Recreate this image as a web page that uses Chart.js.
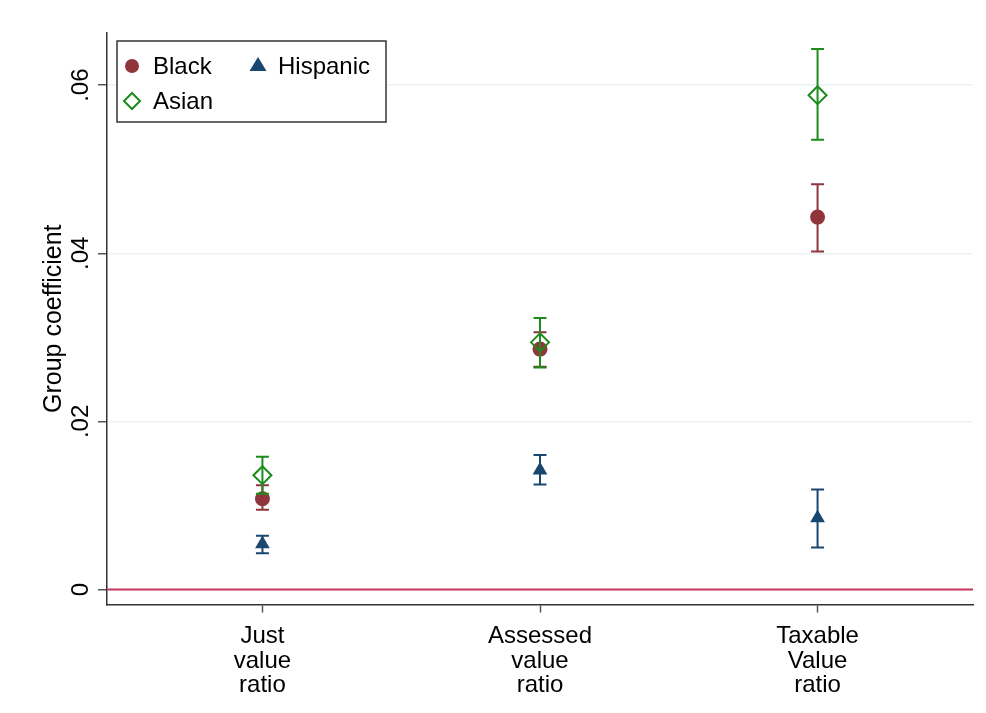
<!DOCTYPE html>
<html lang="en">
<head>
<meta charset="UTF-8">
<script src="https://cdn.jsdelivr.net/npm/chart.js@4.4.1/dist/chart.umd.min.js"></script>
<style>
  html, body { margin: 0; padding: 0; background: #fff; }
  #wrap { width: 986px; height: 713px; }
</style>
</head>
<body>
<div id="wrap"><canvas id="coefChart" width="986" height="713"></canvas></div>
<script>
// categories on the x axis (positions 1, 2, 3)
var categories = [["Just", "value", "ratio"], ["Assessed", "value", "ratio"], ["Taxable", "Value", "ratio"]];
var catPos = [1, 2, 3];
var yTicks = [0, 0.02, 0.04, 0.06];

// point estimates and confidence bounds
var blackCoef = [0.0108, 0.0286, 0.0443];
var blackLo   = [0.0095, 0.0265, 0.0402];
var blackHi   = [0.0124, 0.0306, 0.0482];

var hispanicCoef = [0.0054, 0.0142, 0.0085];
var hispanicLo   = [0.0043, 0.0125, 0.0050];
var hispanicHi   = [0.0064, 0.0160, 0.0119];

var asianCoef = [0.0136, 0.0294, 0.0588];
var asianLo   = [0.0114, 0.0264, 0.0535];
var asianHi   = [0.0158, 0.0323, 0.0643];

var maroon = "#90353b";
var navy = "#1a476f";
var green = "#1c8c1c";
var FONT = "'Liberation Sans', Arial, sans-serif";

function pts(vals) {
    return vals.map(function (v, i) { return { x: catPos[i], y: v }; });
}

var series = [
    { label: "Black", color: maroon, coef: blackCoef, lo: blackLo, hi: blackHi },
    { label: "Hispanic", color: navy, coef: hispanicCoef, lo: hispanicLo, hi: hispanicHi },
    { label: "Asian", color: green, coef: asianCoef, lo: asianLo, hi: asianHi }
];

// zero reference line + error bars (rcap style) + legend box
var extrasPlugin = {
    id: "extras",
    beforeDatasetsDraw: function (chart) {
        var c = chart.ctx, a = chart.chartArea, ys = chart.scales.y;
        var y0 = ys.getPixelForValue(0);
        c.save();
        c.strokeStyle = "#c8365e";
        c.lineWidth = 2.2;
        c.beginPath();
        c.moveTo(a.left, y0);
        c.lineTo(a.right, y0);
        c.stroke();
        c.restore();
    },
    afterDatasetsDraw: function (chart) {
        var c = chart.ctx, xs = chart.scales.x, ys = chart.scales.y;
        c.save();
        c.lineWidth = 2;
        series.forEach(function (s) {
            c.strokeStyle = s.color;
            for (var i = 0; i < catPos.length; i++) {
                var px = xs.getPixelForValue(catPos[i]);
                var pl = ys.getPixelForValue(s.lo[i]);
                var ph = ys.getPixelForValue(s.hi[i]);
                c.beginPath();
                c.moveTo(px, pl); c.lineTo(px, ph);
                c.moveTo(px - 6.5, pl); c.lineTo(px + 6.5, pl);
                c.moveTo(px - 6.5, ph); c.lineTo(px + 6.5, ph);
                c.stroke();
            }
        });
        c.restore();
    },
    afterDraw: function (chart) {
        var c = chart.ctx, a = chart.chartArea;
        var bx = a.left + 10, by = a.top + 8, bw = 269, bh = 81;
        c.save();
        c.fillStyle = "#fff";
        c.fillRect(bx, by, bw, bh);
        c.strokeStyle = "#333";
        c.lineWidth = 1.5;
        c.strokeRect(bx, by, bw, bh);
        c.font = "24px " + FONT;
        c.textBaseline = "middle";
        // Black
        c.fillStyle = maroon;
        c.beginPath(); c.arc(bx + 15, by + 25, 7, 0, Math.PI * 2); c.fill();
        c.fillStyle = "#000";
        c.fillText("Black", bx + 36, by + 26);
        // Hispanic
        c.fillStyle = navy;
        c.beginPath();
        c.moveTo(bx + 141, by + 16);
        c.lineTo(bx + 149.5, by + 30);
        c.lineTo(bx + 132.5, by + 30);
        c.closePath(); c.fill();
        c.fillStyle = "#000";
        c.fillText("Hispanic", bx + 161, by + 26);
        // Asian
        c.strokeStyle = green;
        c.lineWidth = 2;
        c.beginPath();
        c.moveTo(bx + 15, by + 52);
        c.lineTo(bx + 23, by + 60);
        c.lineTo(bx + 15, by + 68);
        c.lineTo(bx + 7, by + 60);
        c.closePath(); c.stroke();
        c.fillStyle = "#000";
        c.fillText("Asian", bx + 36, by + 61);
        c.restore();
    }
};

var ctx = document.getElementById("coefChart").getContext("2d");
var chart = new Chart(ctx, {
    type: "scatter",
    data: {
        datasets: [
            {
                label: "Asian", data: pts(asianCoef),
                pointStyle: "rectRot", radius: 9, borderWidth: 2,
                borderColor: green, backgroundColor: "rgba(255,255,255,0)"
            },
            {
                label: "Black", data: pts(blackCoef),
                pointStyle: "circle", radius: 7.5, borderWidth: 0,
                borderColor: maroon, backgroundColor: maroon
            },
            {
                label: "Hispanic", data: pts(hispanicCoef),
                pointStyle: "triangle", radius: 8.5, borderWidth: 0,
                borderColor: navy, backgroundColor: navy
            }
        ]
    },
    options: {
        responsive: false,
        animation: false,
        layout: { padding: { left: 41, right: 13, top: 33, bottom: 3 } },
        plugins: {
            legend: { display: false },
            tooltip: { enabled: false }
        },
        scales: {
            x: {
                type: "linear",
                min: 0.44,
                max: 3.56,
                afterBuildTicks: function (axis) {
                    axis.ticks = catPos.map(function (v) { return { value: v }; });
                },
                ticks: {
                    callback: function (v) { return categories[catPos.indexOf(v)]; },
                    font: { family: FONT, size: 24, lineHeight: 1.02 },
                    color: "#000",
                    padding: 12,
                    maxRotation: 0,
                    autoSkip: false
                },
                grid: { drawOnChartArea: false, tickLength: 8, tickColor: "#555", tickWidth: 1.5 },
                border: { color: "#333", width: 1.5 }
            },
            y: {
                min: -0.00179,
                max: 0.0662,
                afterBuildTicks: function (axis) {
                    axis.ticks = yTicks.map(function (v) { return { value: v }; });
                },
                ticks: {
                    callback: function (v) { return v === 0 ? "0" : String(v).replace(/^0/, ""); },
                    font: { family: FONT, size: 24, lineHeight: 1.0 },
                    color: "#000",
                    minRotation: 90,
                    maxRotation: 90,
                    crossAlign: "center",
                    padding: 0
                },
                grid: { color: "#eaf2f3", lineWidth: 1.5, tickLength: 9, tickColor: "#555", tickWidth: 1.5 },
                border: { color: "#333", width: 1.5 },
                title: {
                    display: true,
                    text: "Group coefficient",
                    font: { family: FONT, size: 25, lineHeight: 1.0 },
                    color: "#000",
                    padding: { top: 1, bottom: 7 }
                }
            }
        }
    },
    plugins: [extrasPlugin]
});
</script>
</body>
</html>
